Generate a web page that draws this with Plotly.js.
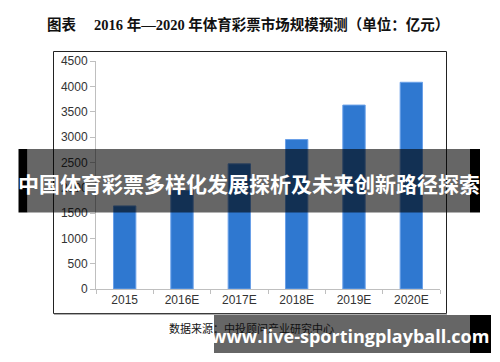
<!DOCTYPE html>
<html>
<head>
<meta charset="utf-8">
<script src="https://cdn.plot.ly/plotly-3.0.1.min.js"></script>
<style>html,body{margin:0;padding:0;background:#fff;}#chart{width:500px;height:362px;}</style>
</head>
<body>
<div id="chart"></div>
<script>
const categories = ["2015", "2016E", "2017E", "2018E", "2019E", "2020E"];
const marketSize = [1640, 1950, 2470, 2950, 3630, 4080];
const yTickVals = [0, 500, 1000, 1500, 2000, 2500, 3000, 3500, 4000, 4500];
const chartTitle = "图表\u00a0\u00a0\u00a0\u00a0\u00a02016 年—2020 年体育彩票市场规模预测（单位：亿元）";
const sourceText = "数据来源：中投顾问产业研究中心";
const bannerText = "中国体育彩票多样化发展探析及未来创新路径探索";
const urlText = "www.live-sportingplayball.com";

// plot area in pixels
const L = 96, R = 440, T = 61, B = 289;
const px = x => (x - L) / (R - L);
const py = y => (B - y) / (B - T);

function rect(x0, y0, x1, y1, fill, line) {
  return {type: "rect", xref: "paper", yref: "paper",
    x0: px(x0), x1: px(x1), y0: py(y1), y1: py(y0),
    fillcolor: fill, line: line || {width: 0}, layer: "above"};
}

const shapes = [
  rect(53.5, 51.5, 446.5, 313.5, "rgba(0,0,0,0)", {color: "#222", width: 1}),
  rect(54, 313.5, 447, 315, "rgba(120,120,120,0.6)"),
  rect(18.5, 149, 27.5, 212.5, "#000"),
  rect(470, 149, 480, 212.5, "#000"),
  rect(27.5, 149, 470, 212.5, "rgba(0,0,0,0.6)"),
  rect(214, 315, 470, 353, "rgba(0,0,0,0.6)"),
  rect(470, 315, 491, 353, "#000")
];

const annotations = [
  {text: chartTitle, xref: "paper", yref: "paper", x: px(248), y: py(25),
   xanchor: "center", yanchor: "middle", showarrow: false,
   font: {family: "Liberation Serif, Noto Sans CJK SC", size: 14.5, color: "#111", weight: "bold"}},
  {text: sourceText, xref: "paper", yref: "paper", x: px(167), y: py(328),
   xanchor: "left", yanchor: "middle", showarrow: false,
   font: {family: "Noto Sans CJK SC", size: 11, color: "#111"}},
  {text: bannerText, xref: "paper", yref: "paper", x: px(249), y: py(183),
   xanchor: "center", yanchor: "middle", showarrow: false,
   font: {family: "Noto Sans CJK SC", size: 21, color: "#fff", weight: "bold"}},
  {text: urlText, xref: "paper", yref: "paper", x: px(350), y: py(336),
   xanchor: "center", yanchor: "middle", showarrow: false,
   font: {family: "Open Sans, DejaVu Sans", size: 18, color: "#fff", weight: "bold"}}
];

const trace = {
  type: "bar", x: categories, y: marketSize, width: 0.39,
  marker: {color: "#2f78d0", line: {color: "#6aa0e8", width: 1}},
  hoverinfo: "skip"
};

const layout = {
  width: 500, height: 362,
  margin: {l: L, r: 500 - R, t: T, b: 362 - B, pad: 0},
  paper_bgcolor: "#fff", plot_bgcolor: "#fff",
  showlegend: false,
  xaxis: {type: "category", showgrid: false, zeroline: false,
    showline: true, linecolor: "#bfbfbf", linewidth: 1,
    ticks: "outside", tickson: "boundaries", ticklen: 4, tickcolor: "#bfbfbf",
    tickfont: {family: "Liberation Sans, Arial", size: 12, color: "#333"}},
  yaxis: {range: [0, 4500], tickvals: yTickVals, showgrid: false, zeroline: false,
    showline: true, linecolor: "#bfbfbf", linewidth: 1,
    ticks: "outside", ticklen: 5, tickcolor: "#bfbfbf",
    tickfont: {family: "Liberation Sans, Arial", size: 12, color: "#333"}},
  shapes: shapes,
  annotations: annotations
};

Plotly.newPlot("chart", [trace], layout, {staticPlot: true, displayModeBar: false});
</script>
</body>
</html>
